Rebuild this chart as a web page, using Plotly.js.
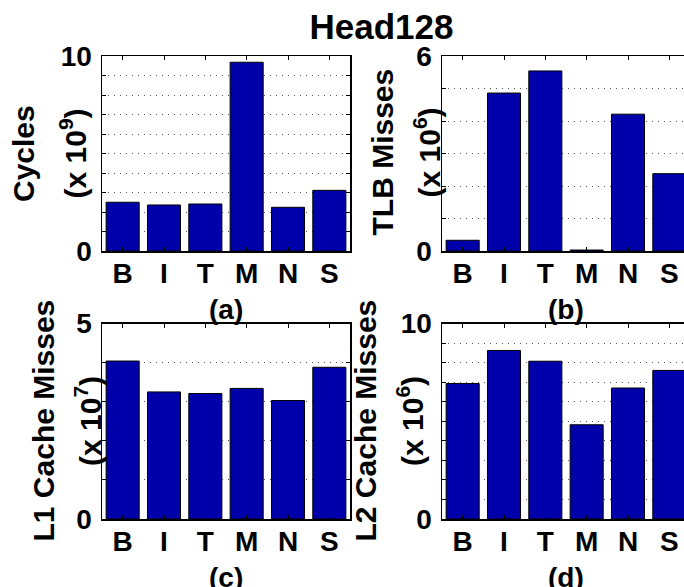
<!DOCTYPE html>
<html>
<head>
<meta charset="utf-8">
<script src="https://cdn.plot.ly/plotly-3.0.1.min.js"></script>
<style>html,body{margin:0;padding:0;background:#fff;}#chart{width:684px;height:587px;}</style>
</head>
<body>
<div id="chart"></div>
<script>
// ---- data ----
const categories = ['B', 'I', 'T', 'M', 'N', 'S'];
const cycles = [2.50, 2.36, 2.41, 9.68, 2.24, 3.11];      // x 10^9
const tlbMisses = [0.33, 4.86, 5.54, 0.03, 4.21, 2.38];   // x 10^6
const l1Misses = [4.04, 3.25, 3.21, 3.34, 3.03, 3.88];    // x 10^7
const l2Misses = [6.93, 8.62, 8.07, 4.82, 6.70, 7.60];    // x 10^6
const yMaxA = 10, yMaxB = 6, yMaxC = 5, yMaxD = 10;

// ---- geometry helpers ----
const W = 684, H = 587;
const px = x => x / W;
const py = y => 1 - y / H;
const FONT = 'Liberation Sans, Arial, Helvetica, sans-serif';
const BLUE = 'rgb(0,0,170)';

function bar(y, xa, ya) {
  return {
    type: 'bar', x: categories, y: y, xaxis: xa, yaxis: ya,
    marker: {color: BLUE, line: {color: '#000', width: 1}},
    width: 0.8, hoverinfo: 'skip'
  };
}
const data = [
  bar(cycles, 'x', 'y'),
  bar(tlbMisses, 'x2', 'y2'),
  bar(l1Misses, 'x3', 'y3'),
  bar(l2Misses, 'x4', 'y4')
];

function xax(domain, right) {
  return {
    domain: domain, type: 'category', range: [-0.5, right],
    showline: true, linecolor: '#000', linewidth: 1.5, mirror: 'ticks',
    ticks: 'inside', ticklen: 4, tickcolor: '#000',
    tickfont: {family: FONT, size: 28, weight: 'bold', color: '#000'},
    ticklabelstandoff: -3,
    showgrid: false, zeroline: false, fixedrange: true
  };
}
function yax(domain, max, anchor, mirror) {
  const vals = [], txt = [];
  for (let i = 0; i <= max; i++) { vals.push(i); txt.push(i === 0 || i === max ? String(i) : ''); }
  return {
    domain: domain, range: [0, max], anchor: anchor,
    tickmode: 'array', tickvals: vals, ticktext: txt,
    showline: true, linecolor: '#000', linewidth: 1.5, mirror: mirror,
    ticks: 'inside', ticklen: 4, tickcolor: '#000',
    tickfont: {family: FONT, size: 28, weight: 'bold', color: '#000'},
    ticklabelstandoff: 3,
    showgrid: true, gridcolor: '#555', griddash: '1px,5px', gridwidth: 1,
    zeroline: false, fixedrange: true
  };
}

const xL = [px(102), px(350)];
const xR = [px(442), 1];
const rightRange = -0.5 + (684 - 442) / (248 / 6);
const yT = [py(251), py(56)];
const yB = [py(519), py(323.5)];

function ann(text, x, y, angle, size) {
  return {
    text: text, xref: 'paper', yref: 'paper', x: px(x), y: py(y),
    xanchor: 'center', yanchor: 'middle', showarrow: false,
    textangle: angle, font: {family: FONT, size: size, weight: 'bold', color: '#000'}
  };
}

const layout = {
  width: W, height: H,
  margin: {l: 0, r: 0, t: 0, b: 0, pad: 0},
  paper_bgcolor: '#fff', plot_bgcolor: '#fff',
  showlegend: false, bargap: 0.2,
  title: {
    text: 'Head128', x: px(381.5), xanchor: 'center', y: py(27), yanchor: 'middle',
    font: {family: FONT, size: 35, weight: 'bold', color: '#000'}
  },
  xaxis: Object.assign(xax(xL, 5.5), {anchor: 'y'}),
  yaxis: yax(yT, yMaxA, 'x', 'ticks'),
  xaxis2: Object.assign(xax(xR, rightRange), {anchor: 'y2'}),
  yaxis2: yax(yT, yMaxB, 'x2', false),
  xaxis3: Object.assign(xax(xL, 5.5), {anchor: 'y3'}),
  yaxis3: yax(yB, yMaxC, 'x3', 'ticks'),
  xaxis4: Object.assign(xax(xR, rightRange), {anchor: 'y4'}),
  yaxis4: yax(yB, yMaxD, 'x4', false),
  annotations: [
    ann('Cycles', 23.5, 153.5, -90, 30),
    ann('(x 10<sup>9</sup>)', 73, 153.5, -90, 30),
    ann('TLB Misses', 382, 152.5, -90, 30),
    ann('(x 10<sup>6</sup>)', 428, 152.5, -90, 30),
    ann('L1 Cache Misses', 42.5, 421, -90, 30),
    ann('(x 10<sup>7</sup>)', 88, 421, -90, 30),
    ann('L2 Cache Misses', 364.5, 421, -90, 30),
    ann('(x 10<sup>6</sup>)', 410, 421, -90, 30),
    ann('(a)', 226, 309.5, 0, 28),
    ann('(b)', 566, 309.5, 0, 28),
    ann('(c)', 226, 577, 0, 28),
    ann('(d)', 566, 577, 0, 28)
  ]
};

Plotly.newPlot('chart', data, layout, {displayModeBar: false, staticPlot: true});
</script>
</body>
</html>
